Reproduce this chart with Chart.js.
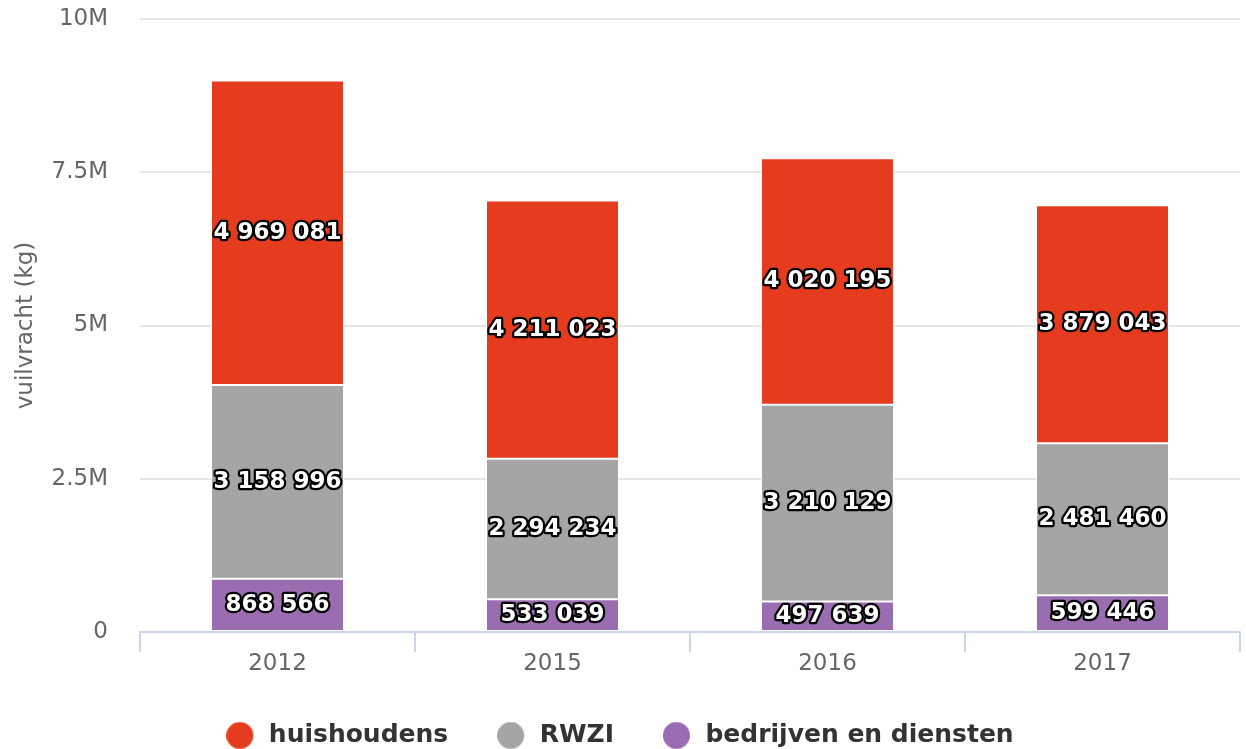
<!DOCTYPE html>
<html>
<head>
<meta charset="utf-8">
<script src="https://cdn.jsdelivr.net/npm/chart.js@4"></script>
<style>
html,body{margin:0;padding:0;background:#fff;}
#wrap{width:1246px;height:749px;position:relative;}
</style>
</head>
<body>
<div id="wrap"><canvas id="c" width="1246" height="749"></canvas></div>
<script>
const categories = ['2012', '2015', '2016', '2017'];
const huishoudens = [4969081, 4211023, 4020195, 3879043];
const rwzi = [3158996, 2294234, 3210129, 2481460];
const bedrijven = [868566, 533039, 497639, 599446];
const yTickLabels = ['0', '2.5M', '5M', '7.5M', '10M'];
const seriesNames = ['huishoudens', 'RWZI', 'bedrijven en diensten'];

const COLORS = {huis: '#e53c1f', rwzi: '#a6a5a5', bedr: '#9a6db0'};
const FONT = 'DejaVu Sans';

function fmt(v) {
  return String(v).replace(/\B(?=(\d{3})+(?!\d))/g, ' ');
}

function dot(color) {
  const cv = document.createElement('canvas');
  cv.width = 30; cv.height = 28;
  const g = cv.getContext('2d');
  g.fillStyle = color;
  g.beginPath();
  g.arc(13.5, 14, 13.5, 0, Math.PI * 2);
  g.fill();
  return cv;
}

const labelPlugin = {
  id: 'stackLabels',
  afterDatasetsDraw(chart) {
    const ctx = chart.ctx;
    ctx.save();
    ctx.font = 'bold 23px "' + FONT + '"';
    ctx.textAlign = 'center';
    ctx.textBaseline = 'middle';
    ctx.lineJoin = 'round';
    chart.data.datasets.forEach((ds, di) => {
      const meta = chart.getDatasetMeta(di);
      meta.data.forEach((el, i) => {
        const txt = fmt(ds.data[i]);
        const x = el.x;
        const y = (el.y + el.base) / 2;
        ctx.strokeStyle = '#000';
        ctx.lineWidth = 4.5;
        ctx.strokeText(txt, x, y);
        ctx.fillStyle = '#fff';
        ctx.fillText(txt, x, y);
      });
    });
    ctx.restore();
  }
};

const barCommon = {
  borderColor: '#ffffff',
  borderWidth: 1,
  borderSkipped: false,
  categoryPercentage: 1,
  barPercentage: 0.4836
};

new Chart(document.getElementById('c'), {
  type: 'bar',
  data: {
    labels: categories,
    datasets: [
      Object.assign({label: seriesNames[2], data: bedrijven, backgroundColor: COLORS.bedr}, barCommon),
      Object.assign({label: seriesNames[1], data: rwzi, backgroundColor: COLORS.rwzi}, barCommon),
      Object.assign({label: seriesNames[0], data: huishoudens, backgroundColor: COLORS.huis}, barCommon)
    ]
  },
  options: {
    responsive: false,
    animation: false,
    devicePixelRatio: 1,
    layout: {padding: {top: 19, right: 6, left: 0, bottom: -9}},
    plugins: {
      tooltip: {enabled: false},
      legend: {
        position: 'bottom',
        reverse: true,
        labels: {
          usePointStyle: true,
          pointStyleWidth: 30,
          padding: 49,
          color: '#333333',
          font: {family: FONT, size: 25, weight: 'bold'},
          generateLabels(chart) {
            const items = Chart.defaults.plugins.legend.labels.generateLabels(chart);
            items.forEach(it => { it.pointStyle = dot(it.fillStyle); it.lineWidth = 0; });
            return items;
          }
        }
      }
    },
    scales: {
      x: {
        stacked: true,
        border: {display: true, color: '#ccd6eb', width: 2},
        grid: {drawOnChartArea: false, drawTicks: true, tickLength: 20, color: '#ccd6eb', lineWidth: 2, offset: true},
        ticks: {color: '#666666', font: {family: FONT, size: 23}, padding: -2, maxRotation: 0},
        afterFit(s) { s.height = 42; }
      },
      y: {
        stacked: true,
        min: 0,
        max: 10000000,
        border: {display: false},
        grid: {color: '#e6e6e6', lineWidth: 2, drawTicks: true, tickLength: 29, tickColor: 'rgba(0,0,0,0)'},
        ticks: {
          stepSize: 2500000,
          color: '#666666',
          padding: 3,
          font: {family: FONT, size: 23},
          callback(v, i) { return yTickLabels[i]; }
        },
        title: {
          display: true,
          text: 'vuilvracht (kg)',
          color: '#666666',
          font: {family: FONT, size: 23},
          padding: {top: 12, bottom: 0}
        },
        afterFit(s) { s.width = 140; }
      }
    }
  },
  plugins: [labelPlugin]
});
</script>
</body>
</html>
